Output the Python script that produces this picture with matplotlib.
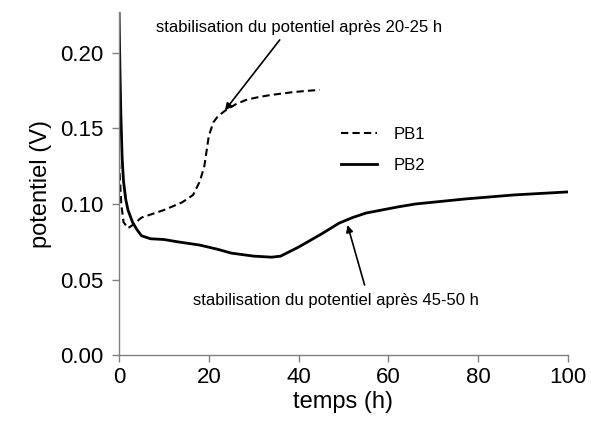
import matplotlib
matplotlib.use("Agg")
import matplotlib.pyplot as plt

plt.rcParams['font.family'] = ['Liberation Sans', 'DejaVu Sans']

# PB1 (dashed)
pb1_t = [0, 0.5, 1, 2, 3, 5, 8, 10, 14, 16.5, 18, 19, 20, 21, 22, 23.6, 26, 28.4, 31, 33.5, 36, 38.7, 41.5, 44.7]
pb1_v = [0.128, 0.100, 0.088, 0.084, 0.086, 0.091, 0.094, 0.096, 0.101, 0.106, 0.115, 0.125, 0.145, 0.154, 0.158, 0.1617,
         0.1660, 0.169, 0.1707, 0.172, 0.173, 0.174, 0.1748, 0.1755]

# PB2 (solid)
pb2_t = [0, 0.2, 0.4, 0.7, 1, 1.5, 2, 3, 4, 5, 7, 10, 13, 18, 22, 25, 30, 34, 36, 40, 45, 49, 52, 55, 62, 66, 77, 88, 100]
pb2_v = [0.227, 0.19, 0.16, 0.13, 0.115, 0.103, 0.096, 0.088, 0.083, 0.079, 0.077, 0.0765, 0.075, 0.0728, 0.070, 0.0675,
         0.0655, 0.0648, 0.0655, 0.0715, 0.080, 0.0873, 0.091, 0.094, 0.098, 0.100, 0.1033, 0.106, 0.108]

xticks = [0, 20, 40, 60, 80, 100]
yticks = [0.00, 0.05, 0.10, 0.15, 0.20]

fig = plt.figure(figsize=(5.91, 4.32), dpi=100)
ax = fig.add_axes([0.2014, 0.178, 0.7596, 0.794])

ax.plot(pb1_t, pb1_v, color='black', lw=1.5, linestyle=(0, (3.5, 2)), label='PB1')
ax.plot(pb2_t, pb2_v, color='black', lw=2.0, linestyle='-', label='PB2')

ax.set_xlim(0, 100)
ax.set_ylim(0, 0.227)
ax.set_xticks(xticks)
ax.set_yticks(yticks)
ax.set_yticklabels([f"{v:.2f}" for v in yticks])
ax.tick_params(axis='both', labelsize=16, color='#808080', length=5, width=1, direction='out')
ax.tick_params(axis='y', pad=6)

for s in ['top', 'right']:
    ax.spines[s].set_visible(False)
for s in ['left', 'bottom']:
    ax.spines[s].set_color('#808080')
    ax.spines[s].set_linewidth(1)

ax.set_xlabel('temps (h)', fontsize=17, labelpad=2)
ax.set_ylabel('potentiel (V)', fontsize=17, labelpad=6)

arrow = dict(arrowstyle='-|>', color='black', lw=1.2, shrinkA=0, shrinkB=0, mutation_scale=10)
ax.text(40.2, 0.217, 'stabilisation du potentiel après 20-25 h', fontsize=12, ha='center', va='center')
ax.annotate('', xy=(23.6, 0.162), xytext=(35.8, 0.2086), arrowprops=arrow)
ax.text(48.4, 0.036, 'stabilisation du potentiel après 45-50 h', fontsize=12, ha='center', va='center')
ax.annotate('', xy=(50.9, 0.086), xytext=(54.7, 0.0464), arrowprops=arrow)

leg = ax.legend(loc='upper left', bbox_to_anchor=(0.46, 0.71), frameon=False, fontsize=12,
                handlelength=2.2, labelspacing=1.0, handletextpad=1.0)

fig.savefig('out.png', dpi=100)
